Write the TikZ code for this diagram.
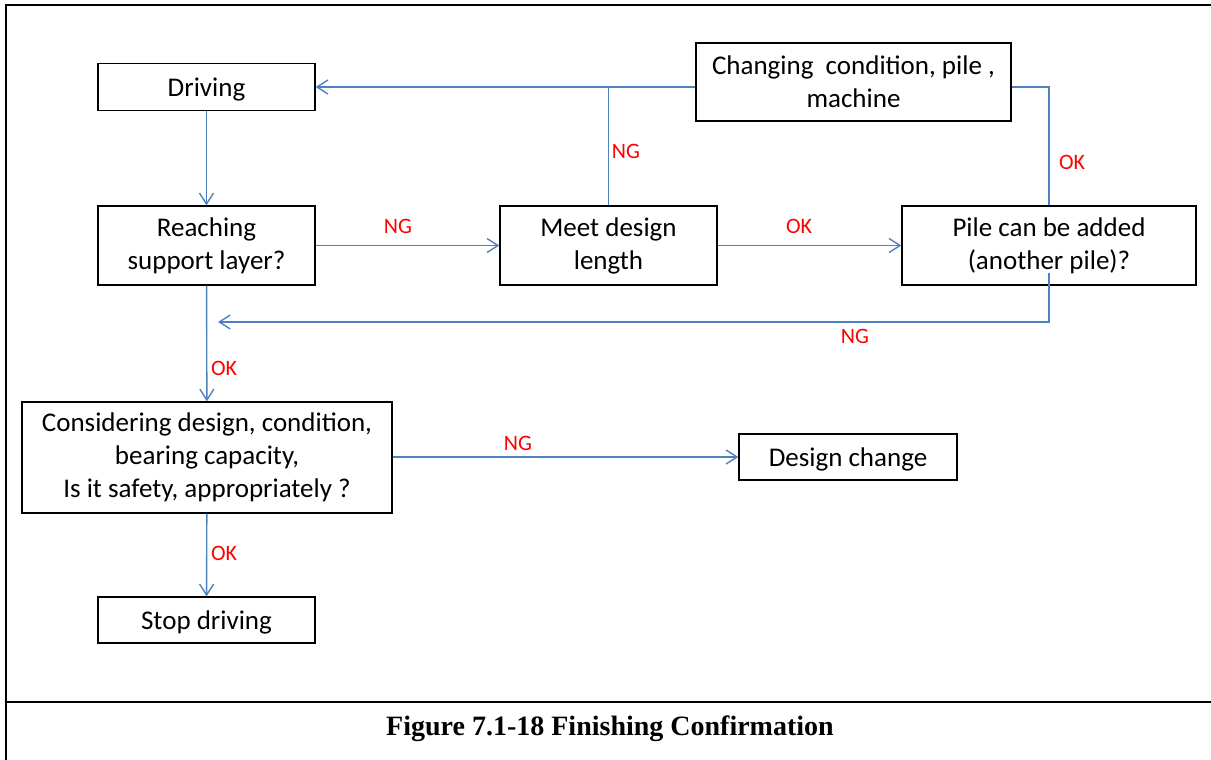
\documentclass[tikz,border=0pt]{standalone}
\usepackage{fontspec}
\setmainfont{Carlito}
\newfontfamily\capfont{Liberation Serif}
\usetikzlibrary{arrows.meta}
\definecolor{flowblue}{RGB}{79,129,189}
\begin{document}
\begin{tikzpicture}[x=1pt,y=-1pt,
  box/.style={draw=black, line width=1.3pt, fill=white, inner sep=0pt,
    align=center, font=\fontsize{27}{33}\selectfont,
    execute at begin node={\rule{0pt}{23pt}}},
  link/.style={draw=flowblue, line width=1.4pt},
  arr/.style={link, -{Straight Barb[length=11pt,width=14pt,line width=1.4pt]}},
  tag/.style={text=red, inner sep=0pt, font=\fontsize{22}{26}\selectfont},
  frame/.style={line width=2.6pt}]
\useasboundingbox (0,0) rectangle (1211,760);

% outer frame and caption row
\draw[frame] (6,760) -- (6,5) -- (1211,5);
\draw[frame] (6,702) -- (1211,702);
\node[font=\capfont\bfseries\fontsize{28}{32}\selectfont, inner sep=0pt]
  (cap) at (610,729) {Figure 7.1-18 Finishing Confirmation};

% process boxes
\node[box, minimum width=217pt, minimum height=47pt] (drv) at (206.5,87) {Driving};
\node[box, minimum width=315pt, minimum height=78pt] (chg) at (853.5,82)
  {Changing\ \ condition, pile ,\\machine};
\node[box, minimum width=217pt, minimum height=79pt] (reach) at (206.5,245.5)
  {Reaching\\support layer?};
\node[box, minimum width=217pt, minimum height=79pt] (meet) at (608.5,245.5)
  {Meet design\\length};
\node[box, minimum width=294pt, minimum height=79pt] (pile) at (1049,245.5)
  {Pile can be added\\(another pile)?};
\node[box, minimum width=370pt, minimum height=111pt] (cons) at (207,457.5)
  {Considering design, condition,\\bearing capacity,\\Is it safety, appropriately ?};
\node[box, minimum width=218pt, minimum height=46pt] (dchg) at (848,457) {Design change};
\node[box, minimum width=217pt, minimum height=46pt] (stop) at (206.5,620) {Stop driving};

% connectors
\coordinate (ret) at (218,322);
\coordinate (pileout) at ([yshift=13pt]pile.south);
\draw[arr] (drv) -- (reach);
\draw[arr] (chg.west |- drv.east) -- (drv.east);
\draw[link] (meet.north) -- (meet.north |- drv.east);
\draw[link] (chg.east |- drv.east) -| (pile.north);
\draw[arr] (reach.east) -- (meet.west);
\draw[arr] (meet.east) -- (pile.west);
\draw[arr] (pileout) |- (ret);
\draw[arr] (reach) -- (cons);
\draw[arr] (cons.east |- dchg.west) -- (dchg.west);
\draw[arr] (cons) -- (stop);

% branch labels
\node[tag] (l1) at (626,151) {NG};
\node[tag] (l2) at (1072,162) {OK};
\node[tag] (l3) at (398,226) {NG};
\node[tag] (l4) at (799,226) {OK};
\node[tag] (l5) at (855,336) {NG};
\node[tag] (l6) at (224,368) {OK};
\node[tag] (l7) at (518,443) {NG};
\node[tag] (l8) at (224,553) {OK};
\end{tikzpicture}
\end{document}
